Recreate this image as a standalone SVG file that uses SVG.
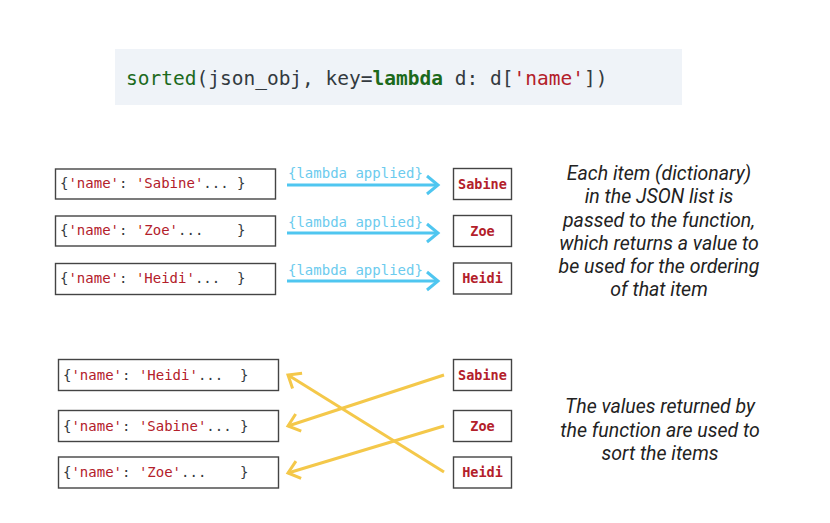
<svg xmlns="http://www.w3.org/2000/svg" width="830" height="523" viewBox="0 0 830 523">
<style>
.code{font-family:"DejaVu Sans Mono","Liberation Mono",monospace;}
.dk{fill:#333a40;}
.gr{fill:#1c6a1c;}
.rd{fill:#b3202a;}
.box{fill:#ffffff;stroke:#444444;stroke-width:1.4;}
.item{font-size:14px;}
.val{font-size:13.5px;font-weight:bold;fill:#b3202a;text-anchor:middle;}
.lbl{font-size:14px;fill:#6ccbee;}
.blue{stroke:#4fc6f0;stroke-width:3;fill:none;}
.yel{stroke:#f4c84a;stroke-width:3;fill:none;}
.note{font-family:Roboto,"Liberation Sans",sans-serif;font-style:italic;font-size:19.5px;fill:#222222;text-anchor:middle;}
</style>
<defs>
<marker id="ab" markerUnits="userSpaceOnUse" markerWidth="30" markerHeight="30" viewBox="-15 -15 30 30" refX="0" refY="0" orient="auto">
<path d="M-11,-9 L0,0 L-11,9" fill="none" stroke="#4fc6f0" stroke-width="3"/>
</marker>
<marker id="ay" markerUnits="userSpaceOnUse" markerWidth="30" markerHeight="30" viewBox="-15 -15 30 30" refX="0" refY="0" orient="auto">
<path d="M-11,-9 L0,0 L-11,9" fill="none" stroke="#f4c84a" stroke-width="3"/>
</marker>
</defs>
<rect width="830" height="523" fill="#ffffff"/>

<g id="banner">
<rect x="115" y="49" width="567" height="56" fill="#eff3f8"/>
<text class="code" x="126" y="85" font-size="19.5px" xml:space="preserve"><tspan class="gr">sorted</tspan><tspan class="dk">(json_obj, key=</tspan><tspan class="gr" font-weight="bold">lambda</tspan><tspan class="dk"> d: d[</tspan><tspan class="rd">'name'</tspan><tspan class="dk">])</tspan></text>
</g>

<g id="in-sabine">
<rect class="box" x="55.5" y="169" width="220" height="30"/>
<text class="code item" x="60" y="188" xml:space="preserve"><tspan class="dk">{</tspan><tspan class="rd">'name'</tspan><tspan class="dk">: </tspan><tspan class="rd">'Sabine'</tspan><tspan class="dk">... }</tspan></text>
</g>
<g id="in-zoe">
<rect class="box" x="55.5" y="216" width="220" height="30"/>
<text class="code item" x="60" y="235" xml:space="preserve"><tspan class="dk">{</tspan><tspan class="rd">'name'</tspan><tspan class="dk">: </tspan><tspan class="rd">'Zoe'</tspan><tspan class="dk">...    }</tspan></text>
</g>
<g id="in-heidi">
<rect class="box" x="55.5" y="263.5" width="220" height="31"/>
<text class="code item" x="60" y="283" xml:space="preserve"><tspan class="dk">{</tspan><tspan class="rd">'name'</tspan><tspan class="dk">: </tspan><tspan class="rd">'Heidi'</tspan><tspan class="dk">...  }</tspan></text>
</g>

<g id="v-sabine">
<rect class="box" x="453.5" y="168.5" width="58" height="31"/>
<text class="code val" x="482.5" y="188.5">Sabine</text>
</g>
<g id="v-zoe">
<rect class="box" x="453.5" y="215.5" width="58" height="31"/>
<text class="code val" x="482.5" y="235.5">Zoe</text>
</g>
<g id="v-heidi">
<rect class="box" x="453.5" y="263" width="58" height="31"/>
<text class="code val" x="482.5" y="283">Heidi</text>
</g>

<g id="out-heidi">
<rect class="box" x="58.5" y="359.5" width="220" height="31"/>
<text class="code item" x="63" y="379.5" xml:space="preserve"><tspan class="dk">{</tspan><tspan class="rd">'name'</tspan><tspan class="dk">: </tspan><tspan class="rd">'Heidi'</tspan><tspan class="dk">...  }</tspan></text>
</g>
<g id="out-sabine">
<rect class="box" x="58.5" y="410.5" width="220" height="31"/>
<text class="code item" x="63" y="430.5" xml:space="preserve"><tspan class="dk">{</tspan><tspan class="rd">'name'</tspan><tspan class="dk">: </tspan><tspan class="rd">'Sabine'</tspan><tspan class="dk">... }</tspan></text>
</g>
<g id="out-zoe">
<rect class="box" x="58.5" y="457" width="220" height="31"/>
<text class="code item" x="63" y="477" xml:space="preserve"><tspan class="dk">{</tspan><tspan class="rd">'name'</tspan><tspan class="dk">: </tspan><tspan class="rd">'Zoe'</tspan><tspan class="dk">...    }</tspan></text>
</g>

<g id="k-sabine">
<rect class="box" x="453.5" y="359.5" width="58" height="31"/>
<text class="code val" x="482.5" y="379.5">Sabine</text>
</g>
<g id="k-zoe">
<rect class="box" x="453.5" y="410.5" width="58" height="31"/>
<text class="code val" x="482.5" y="430.5">Zoe</text>
</g>
<g id="k-heidi">
<rect class="box" x="453.5" y="457" width="58" height="31"/>
<text class="code val" x="482.5" y="477">Heidi</text>
</g>

<g id="connectors">
<line class="blue" x1="287" y1="185" x2="438" y2="185" marker-end="url(#ab)"/>
<line class="blue" x1="287" y1="233" x2="438" y2="233" marker-end="url(#ab)"/>
<line class="blue" x1="287" y1="281" x2="438" y2="281" marker-end="url(#ab)"/>
<text class="code lbl" x="288" y="178">{lambda applied}</text>
<text class="code lbl" x="288" y="227">{lambda applied}</text>
<text class="code lbl" x="288" y="275">{lambda applied}</text>
<line class="yel" x1="444" y1="375" x2="288" y2="426" marker-end="url(#ay)"/>
<line class="yel" x1="444" y1="426" x2="288" y2="473" marker-end="url(#ay)"/>
<line class="yel" x1="444" y1="472" x2="288" y2="375" marker-end="url(#ay)"/>
</g>

<g id="note-top">
<text class="note" x="659" y="180">Each item (dictionary)</text>
<text class="note" x="659" y="203">in the JSON list is</text>
<text class="note" x="659" y="226.5">passed to the function,</text>
<text class="note" x="659" y="250">which returns a value to</text>
<text class="note" x="659" y="273">be used for the ordering</text>
<text class="note" x="659" y="296">of that item</text>
</g>
<g id="note-bottom">
<text class="note" x="660" y="413">The values returned by</text>
<text class="note" x="660" y="436.5">the function are used to</text>
<text class="note" x="660" y="460">sort the items</text>
</g>
</svg>
